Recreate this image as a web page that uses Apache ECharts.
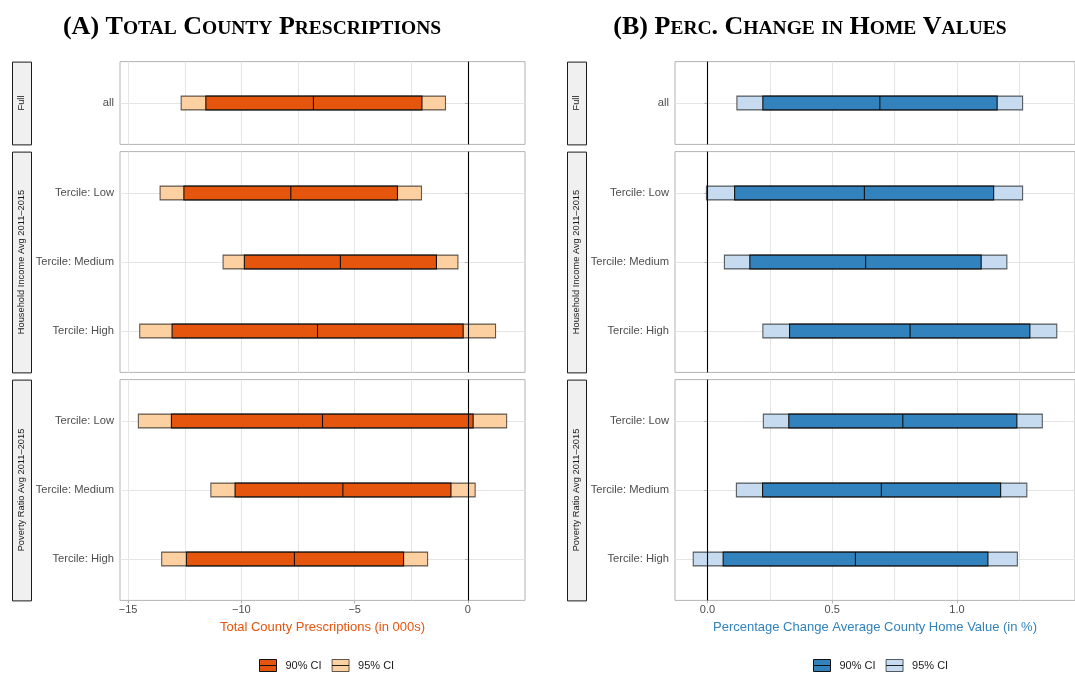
<!DOCTYPE html>
<html>
<head>
<meta charset="utf-8">
<script src="https://cdn.jsdelivr.net/npm/echarts@6/dist/echarts.min.js"></script>
<style>
  html, body { margin: 0; padding: 0; background: #ffffff; }
  #chart { width: 1075px; height: 675px; }
</style>
</head>
<body>
<div id="chart"></div>
<script>
// ---- Data -------------------------------------------------------------
// Row labels of each facet
const fullRows = ['all'];
const incomeRows = ['Tercile: Low', 'Tercile: Medium', 'Tercile: High'];
const povertyRows = ['Tercile: Low', 'Tercile: Medium', 'Tercile: High'];
const facetNames = ['Full', 'Household Income Avg 2011\u20132015', 'Poverty Ratio Avg 2011\u20132015'];

// Total county prescriptions (in 000s): [lo95, lo90, estimate, hi90, hi95]
const rxFull = [[-12.66, -11.57, -6.82, -2.03, -0.99]];
const rxIncome = [
  [-13.59, -12.54, -7.82, -3.11, -2.05],
  [-10.81, -9.87, -5.63, -1.39, -0.44],
  [-14.49, -13.06, -6.64, -0.21, 1.22]
];
const rxPoverty = [
  [-14.55, -13.09, -6.42, 0.23, 1.71],
  [-11.35, -10.28, -5.52, -0.75, 0.32],
  [-13.52, -12.43, -7.66, -2.84, -1.78]
];

// Percentage change in average county home value: [lo95, lo90, estimate, hi90, hi95]
const hvFull = [[0.118, 0.222, 0.691, 1.161, 1.263]];
const hvIncome = [
  [-0.004, 0.109, 0.629, 1.147, 1.263],
  [0.068, 0.170, 0.634, 1.097, 1.200],
  [0.222, 0.329, 0.812, 1.292, 1.400]
];
const hvPoverty = [
  [0.224, 0.326, 0.783, 1.240, 1.342],
  [0.116, 0.221, 0.697, 1.175, 1.280],
  [-0.057, 0.063, 0.593, 1.124, 1.242]
];

// Axis ticks and gridlines
const rxTicks = [-15, -10, -5, 0];
const rxGrid = [-15, -12.5, -10, -7.5, -5, -2.5, 0];
const rxRange = [-15.36, 2.52];
const hvTicks = [0, 0.5, 1.0];
const hvGrid = [0, 0.25, 0.5, 0.75, 1.0, 1.25];
const hvRange = [-0.130, 1.473];

const ciNames = ['90% CI', '95% CI'];

// ---- Layout & style ----------------------------------------------------
const FONT = 'Liberation Sans';
const rowTops = [61.6, 151.6, 379.6];
const rowHeights = [82.8, 220.8, 220.8];

const panels = [
  {
    title: '(A) Total County Prescriptions', titleX: 252,
    left: 120, width: 405, stripX: 12,
    rows: [fullRows, incomeRows, povertyRows],
    data: [rxFull, rxIncome, rxPoverty],
    ticks: rxTicks, grid: rxGrid, range: rxRange,
    fmt: v => (v < 0 ? '\u2212' + Math.abs(v) : String(v)),
    axisTitle: 'Total County Prescriptions (in 000s)',
    dark: '#E6550D', light: '#FDD0A2', legendLeft: 259
  },
  {
    title: '(B) Perc. Change in Home Values', titleX: 810,
    left: 675, width: 406, stripX: 567,
    rows: [fullRows, incomeRows, povertyRows],
    data: [hvFull, hvIncome, hvPoverty],
    ticks: hvTicks, grid: hvGrid, range: hvRange,
    fmt: v => v.toFixed(1),
    axisTitle: 'Percentage Change Average County Home Value (in %)',
    dark: '#3182BD', light: '#C6DBEF', legendLeft: 813
  }
];

// Small-caps headline as rich text: capitals large, lower-case letters as small capitals
function smallCaps(s) {
  let out = '', buf = '', cur = null;
  for (const ch of s) {
    const st = (ch !== ch.toUpperCase()) ? 's' : 'b';
    if (cur !== null && st !== cur) { out += '{' + cur + '|' + buf + '}'; buf = ''; }
    cur = st; buf += ch.toUpperCase();
  }
  if (buf) out += '{' + cur + '|' + buf + '}';
  return out;
}

const grids = [], xAxes = [], yAxes = [], series = [], graphics = [], titles = [], legends = [];
const labelAxes = [];

panels.forEach((P, pi) => {
  titles.push({
    text: smallCaps(P.title),
    left: P.titleX, top: 14, textAlign: 'center', padding: 0,
    textStyle: {
      rich: {
        b: { fontFamily: 'Liberation Serif', fontWeight: 'bold', fontSize: 26, color: '#000', verticalAlign: 'bottom' },
        s: { fontFamily: 'Liberation Serif', fontWeight: 'bold', fontSize: 19.5, color: '#000', verticalAlign: 'bottom', padding: [0, 0, 1, 0] }
      }
    }
  });

  P.rows.forEach((rows, ri) => {
    const gi = grids.length;
    const isBottom = ri === P.rows.length - 1;
    grids.push({
      left: P.left, top: rowTops[ri], width: P.width, height: rowHeights[ri],
      show: true, backgroundColor: '#fff', borderColor: '#B3B3B3', borderWidth: 1,
      containLabel: false
    });
    xAxes.push({
      gridIndex: gi, type: 'value', position: 'bottom',
      min: P.range[0], max: P.range[1],
      axisLine: { show: false },
      axisTick: { show: false, customValues: P.grid },
      axisLabel: { show: false, customValues: P.grid },
      splitLine: { show: true, lineStyle: { color: '#E5E5E5', width: 1 } }
    });
    if (isBottom) {
      labelAxes.push({
        gridIndex: gi, type: 'value', position: 'bottom',
        min: P.range[0], max: P.range[1],
        axisLine: { show: false },
        axisTick: { show: true, customValues: P.ticks, length: 3, lineStyle: { color: '#B3B3B3' } },
        axisLabel: { show: true, customValues: P.ticks, formatter: P.fmt, color: '#4D4D4D', fontSize: 11, fontFamily: FONT, margin: 4 },
        splitLine: { show: false },
        name: P.axisTitle, nameLocation: 'middle', nameGap: 21,
        nameTextStyle: { color: P.dark, fontSize: 13, fontFamily: FONT }
      });
    }
    const idx = rows.map((_, i) => i);
    yAxes.push({
      gridIndex: gi, type: 'value', inverse: true,
      min: -0.6, max: rows.length - 1 + 0.6,
      axisLine: { show: false },
      axisTick: { show: true, customValues: idx, length: 3, lineStyle: { color: '#B3B3B3' } },
      axisLabel: { customValues: idx, formatter: v => rows[Math.round(v)], color: '#4D4D4D', fontSize: 11.2, fontFamily: FONT, margin: 6 },
      splitLine: { show: true, lineStyle: { color: '#E5E5E5', width: 1 } }
    });

    const values = P.data[ri].map((d, i) => [i].concat(d));

    // 95% interval: full-width light box
    series.push({
      name: ciNames[1], type: 'custom', xAxisIndex: gi, yAxisIndex: gi, z: 2,
      encode: { x: [1, 5], y: 0 }, silent: true,
      data: values,
      renderItem(params, api) {
        const y = api.value(0);
        const a = api.coord([api.value(1), y]);
        const b = api.coord([api.value(5), y]);
        const h = api.size([0, 0.2])[1];
        return {
          type: 'rect',
          shape: { x: a[0], y: a[1] - h / 2, width: b[0] - a[0], height: h },
          style: { fill: P.light, stroke: 'rgba(0,0,0,0.62)', lineWidth: 1.1 }
        };
      }
    });
    // 90% interval: dark box with the point estimate as the middle bar
    series.push({
      name: ciNames[0], type: 'custom', xAxisIndex: gi, yAxisIndex: gi, z: 3,
      encode: { x: [2, 4], y: 0 }, silent: true,
      data: values,
      renderItem(params, api) {
        const y = api.value(0);
        const a = api.coord([api.value(2), y]);
        const m = api.coord([api.value(3), y]);
        const b = api.coord([api.value(4), y]);
        const h = api.size([0, 0.2])[1];
        return {
          type: 'group',
          children: [
            { type: 'rect', shape: { x: a[0], y: a[1] - h / 2, width: b[0] - a[0], height: h },
              style: { fill: P.dark, stroke: '#111', lineWidth: 1.1 } },
            { type: 'line', shape: { x1: m[0], y1: m[1] - h / 2, x2: m[0], y2: m[1] + h / 2 },
              style: { stroke: '#111', lineWidth: 1.1 } }
          ]
        };
      },
      markLine: {
        silent: true, symbol: 'none', z: 5,
        label: { show: false },
        lineStyle: { color: '#000', width: 1.1, type: 'solid' },
        data: [{ xAxis: 0 }]
      }
    });

    // Facet strip on the left
    graphics.push({
      type: 'rect', left: P.stripX, top: rowTops[ri],
      shape: { width: 19, height: rowHeights[ri] },
      style: { fill: '#F0F0F0', stroke: '#1A1A1A', lineWidth: 1 }
    });
    graphics.push({
      type: 'text',
      x: P.stripX + 9.5, y: rowTops[ri] + rowHeights[ri] / 2,
      rotation: Math.PI / 2,
      style: { text: facetNames[ri], fontSize: 9.3, fontFamily: FONT, fill: '#1A1A1A', align: 'center', verticalAlign: 'middle' }
    });
  });

  const keyIcon = 'path://M0,0H17V6H0Z M0,6H17V12H0Z';
  legends.push({
    left: P.legendLeft, top: 659, orient: 'horizontal', padding: 0,
    itemWidth: 17, itemHeight: 12, itemGap: 10, selectedMode: false,
    textStyle: { fontSize: 11, fontFamily: FONT, color: '#1A1A1A', padding: [0, 0, 0, 4] },
    data: [
      { name: ciNames[0], icon: keyIcon, itemStyle: { color: P.dark, borderColor: '#111', borderWidth: 1 } },
      { name: ciNames[1], icon: keyIcon, itemStyle: { color: P.light, borderColor: 'rgba(0,0,0,0.62)', borderWidth: 1 } }
    ]
  });
});

const chart = echarts.init(document.getElementById('chart'), null, { renderer: 'canvas' });
chart.setOption({
  animation: false,
  backgroundColor: '#ffffff',
  title: titles,
  legend: legends,
  grid: grids,
  xAxis: xAxes.concat(labelAxes),
  yAxis: yAxes,
  series: series,
  graphic: graphics
});
</script>
</body>
</html>
